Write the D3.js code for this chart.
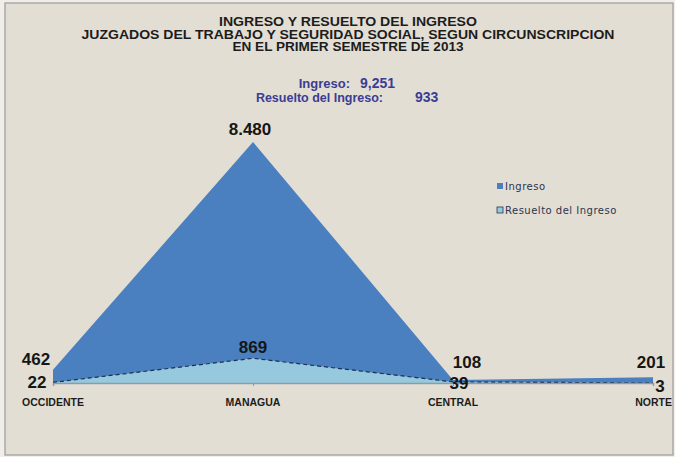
<!DOCTYPE html>
<html>
<head>
<meta charset="utf-8">
<script src="https://cdn.jsdelivr.net/npm/d3@7"></script>
<style>
    body { margin: 0; background: #f1eee9; }
    svg { display: block; }
    .title { font-family: "Liberation Sans", Arial, sans-serif; font-weight: bold; font-size: 12.5px; fill: #1c1c1c; }
    .total { font-family: "Liberation Sans", Arial, sans-serif; font-weight: bold; fill: #3b3c94; }
    .value { font-family: "Liberation Sans", Arial, sans-serif; font-weight: bold; font-size: 17px; fill: #161616; }
    .cat { font-family: "Liberation Sans", Arial, sans-serif; font-weight: bold; font-size: 10.5px; fill: #1c1c1c; }
    .legend { font-family: "DejaVu Sans", sans-serif; font-size: 10px; letter-spacing: 0.5px; fill: #2b3550; }
</style>
</head>
<body>
<div id="chart"></div>
<script>

// Data
let circunscripciones = ["OCCIDENTE", "MANAGUA", "CENTRAL", "NORTE"];
let ingreso = [462, 8480, 108, 201];
let resuelto = [22, 869, 39, 3];
let ingresoLabels = ["462", "8.480", "108", "201"];
let resueltoLabels = ["22", "869", "39", "3"];
let titleLines = [
    "INGRESO Y RESUELTO DEL INGRESO",
    "JUZGADOS DEL TRABAJO Y SEGURIDAD SOCIAL, SEGUN CIRCUNSCRIPCION",
    "EN EL PRIMER SEMESTRE DE 2013"
];
let seriesNames = ["Ingreso", "Resuelto del Ingreso"];

// Title line widths, to match the wide bold face of the original
let titleWidths = [258, 533, 231];

// Label nudges (dx, dy) from each point
let ingresoOffsets = [[-17, -5], [-3, -7], [14, -12], [-2, -9]];
let resueltoOffsets = [[-16, 6], [0, -5], [6, 7], [7, 9]];

let width = 675, height = 457;

let svg = d3.select("#chart").append("svg")
    .attr("width", width)
    .attr("height", height);

// Panel background and frame
svg.append("rect")
    .attr("x", 5).attr("y", 3)
    .attr("width", 668).attr("height", 452)
    .attr("fill", "#e3ded4")
    .attr("stroke", "#a9a9a9")
    .attr("stroke-width", 1.5);

// Title
svg.append("g").selectAll("text")
    .data(titleLines)
    .enter()
    .append("text")
    .attr("class", "title")
    .attr("x", 348)
    .attr("y", (d, i) => 26 + i * 12.5)
    .attr("text-anchor", "middle")
    .attr("textLength", (d, i) => titleWidths[i])
    .attr("lengthAdjust", "spacingAndGlyphs")
    .text(d => d);

// Totals
let totalIngreso = d3.sum(ingreso);
let totalResuelto = d3.sum(resuelto);

svg.append("text").attr("class", "total")
    .attr("x", 350).attr("y", 88).attr("text-anchor", "end")
    .style("font-size", "13px")
    .text("Ingreso:");
svg.append("text").attr("class", "total")
    .attr("x", 360).attr("y", 88)
    .style("font-size", "14px")
    .text(d3.format(",")(totalIngreso));
svg.append("text").attr("class", "total")
    .attr("x", 383).attr("y", 102).attr("text-anchor", "end")
    .style("font-size", "12.5px")
    .text("Resuelto del Ingreso:");
svg.append("text").attr("class", "total")
    .attr("x", 415).attr("y", 102)
    .style("font-size", "14px")
    .text(d3.format(",")(totalResuelto));

// Scales
let x = d3.scalePoint()
    .domain(circunscripciones)
    .range([53, 653]);

let y = d3.scaleLinear()
    .domain([0, d3.max(ingreso)])
    .range([383, 142]);

let ingresoData = circunscripciones.map((c, i) => ({cat: c, v: ingreso[i]}));
let resueltoData = circunscripciones.map((c, i) => ({cat: c, v: resuelto[i]}));

let area = d3.area()
    .x(d => x(d.cat))
    .y0(y(0))
    .y1(d => y(d.v));

let line = d3.line()
    .x(d => x(d.cat))
    .y(d => y(d.v));

// Ingreso area
svg.append("path")
    .datum(ingresoData)
    .attr("fill", "#4a7fc0")
    .attr("d", area);

// Resuelto area on top, with dashed top edge
svg.append("path")
    .datum(resueltoData)
    .attr("fill", "#97c9de")
    .attr("d", area);

svg.append("path")
    .datum(resueltoData)
    .attr("fill", "none")
    .attr("stroke", "#1f2f4f")
    .attr("stroke-width", 1.2)
    .attr("stroke-dasharray", "4,3")
    .attr("d", line);

// Category axis
let axis = svg.append("g")
    .attr("transform", "translate(0," + y(0) + ")")
    .call(d3.axisBottom(x).tickSize(3).tickFormat(""));
axis.select(".domain").attr("stroke", "#8f9aa6").attr("stroke-width", 1.5);
axis.selectAll(".tick line").attr("stroke", "#8f9aa6");

svg.append("g").selectAll("text")
    .data(circunscripciones)
    .enter()
    .append("text")
    .attr("class", "cat")
    .attr("x", d => x(d))
    .attr("y", 406)
    .attr("text-anchor", (d, i) => i === circunscripciones.length - 1 ? "end" : "middle")
    .attr("dx", (d, i) => i === circunscripciones.length - 1 ? 19 : 0)
    .text(d => d);

// Value labels
svg.append("g").selectAll("text")
    .data(ingresoData)
    .enter()
    .append("text")
    .attr("class", "value")
    .attr("x", (d, i) => x(d.cat) + ingresoOffsets[i][0])
    .attr("y", (d, i) => y(d.v) + ingresoOffsets[i][1])
    .attr("text-anchor", "middle")
    .text((d, i) => ingresoLabels[i]);

svg.append("g").selectAll("text")
    .data(resueltoData)
    .enter()
    .append("text")
    .attr("class", "value")
    .attr("x", (d, i) => x(d.cat) + resueltoOffsets[i][0])
    .attr("y", (d, i) => y(d.v) + resueltoOffsets[i][1])
    .attr("text-anchor", "middle")
    .text((d, i) => resueltoLabels[i]);

// Legend
let legend = svg.append("g").attr("transform", "translate(497,183)");
let legendColors = ["#4a7fc0", "#97c9de"];

legend.selectAll("rect")
    .data(seriesNames)
    .enter()
    .append("rect")
    .attr("x", 0)
    .attr("y", (d, i) => i * 24)
    .attr("width", 6).attr("height", 6)
    .attr("fill", (d, i) => legendColors[i])
    .attr("stroke", (d, i) => i === 1 ? "#2b3550" : "none")
    .attr("stroke-width", 0.8);

legend.selectAll("text")
    .data(seriesNames)
    .enter()
    .append("text")
    .attr("class", "legend")
    .attr("x", 8)
    .attr("y", (d, i) => i * 24 + 7)
    .text(d => d);

</script>
</body>
</html>
